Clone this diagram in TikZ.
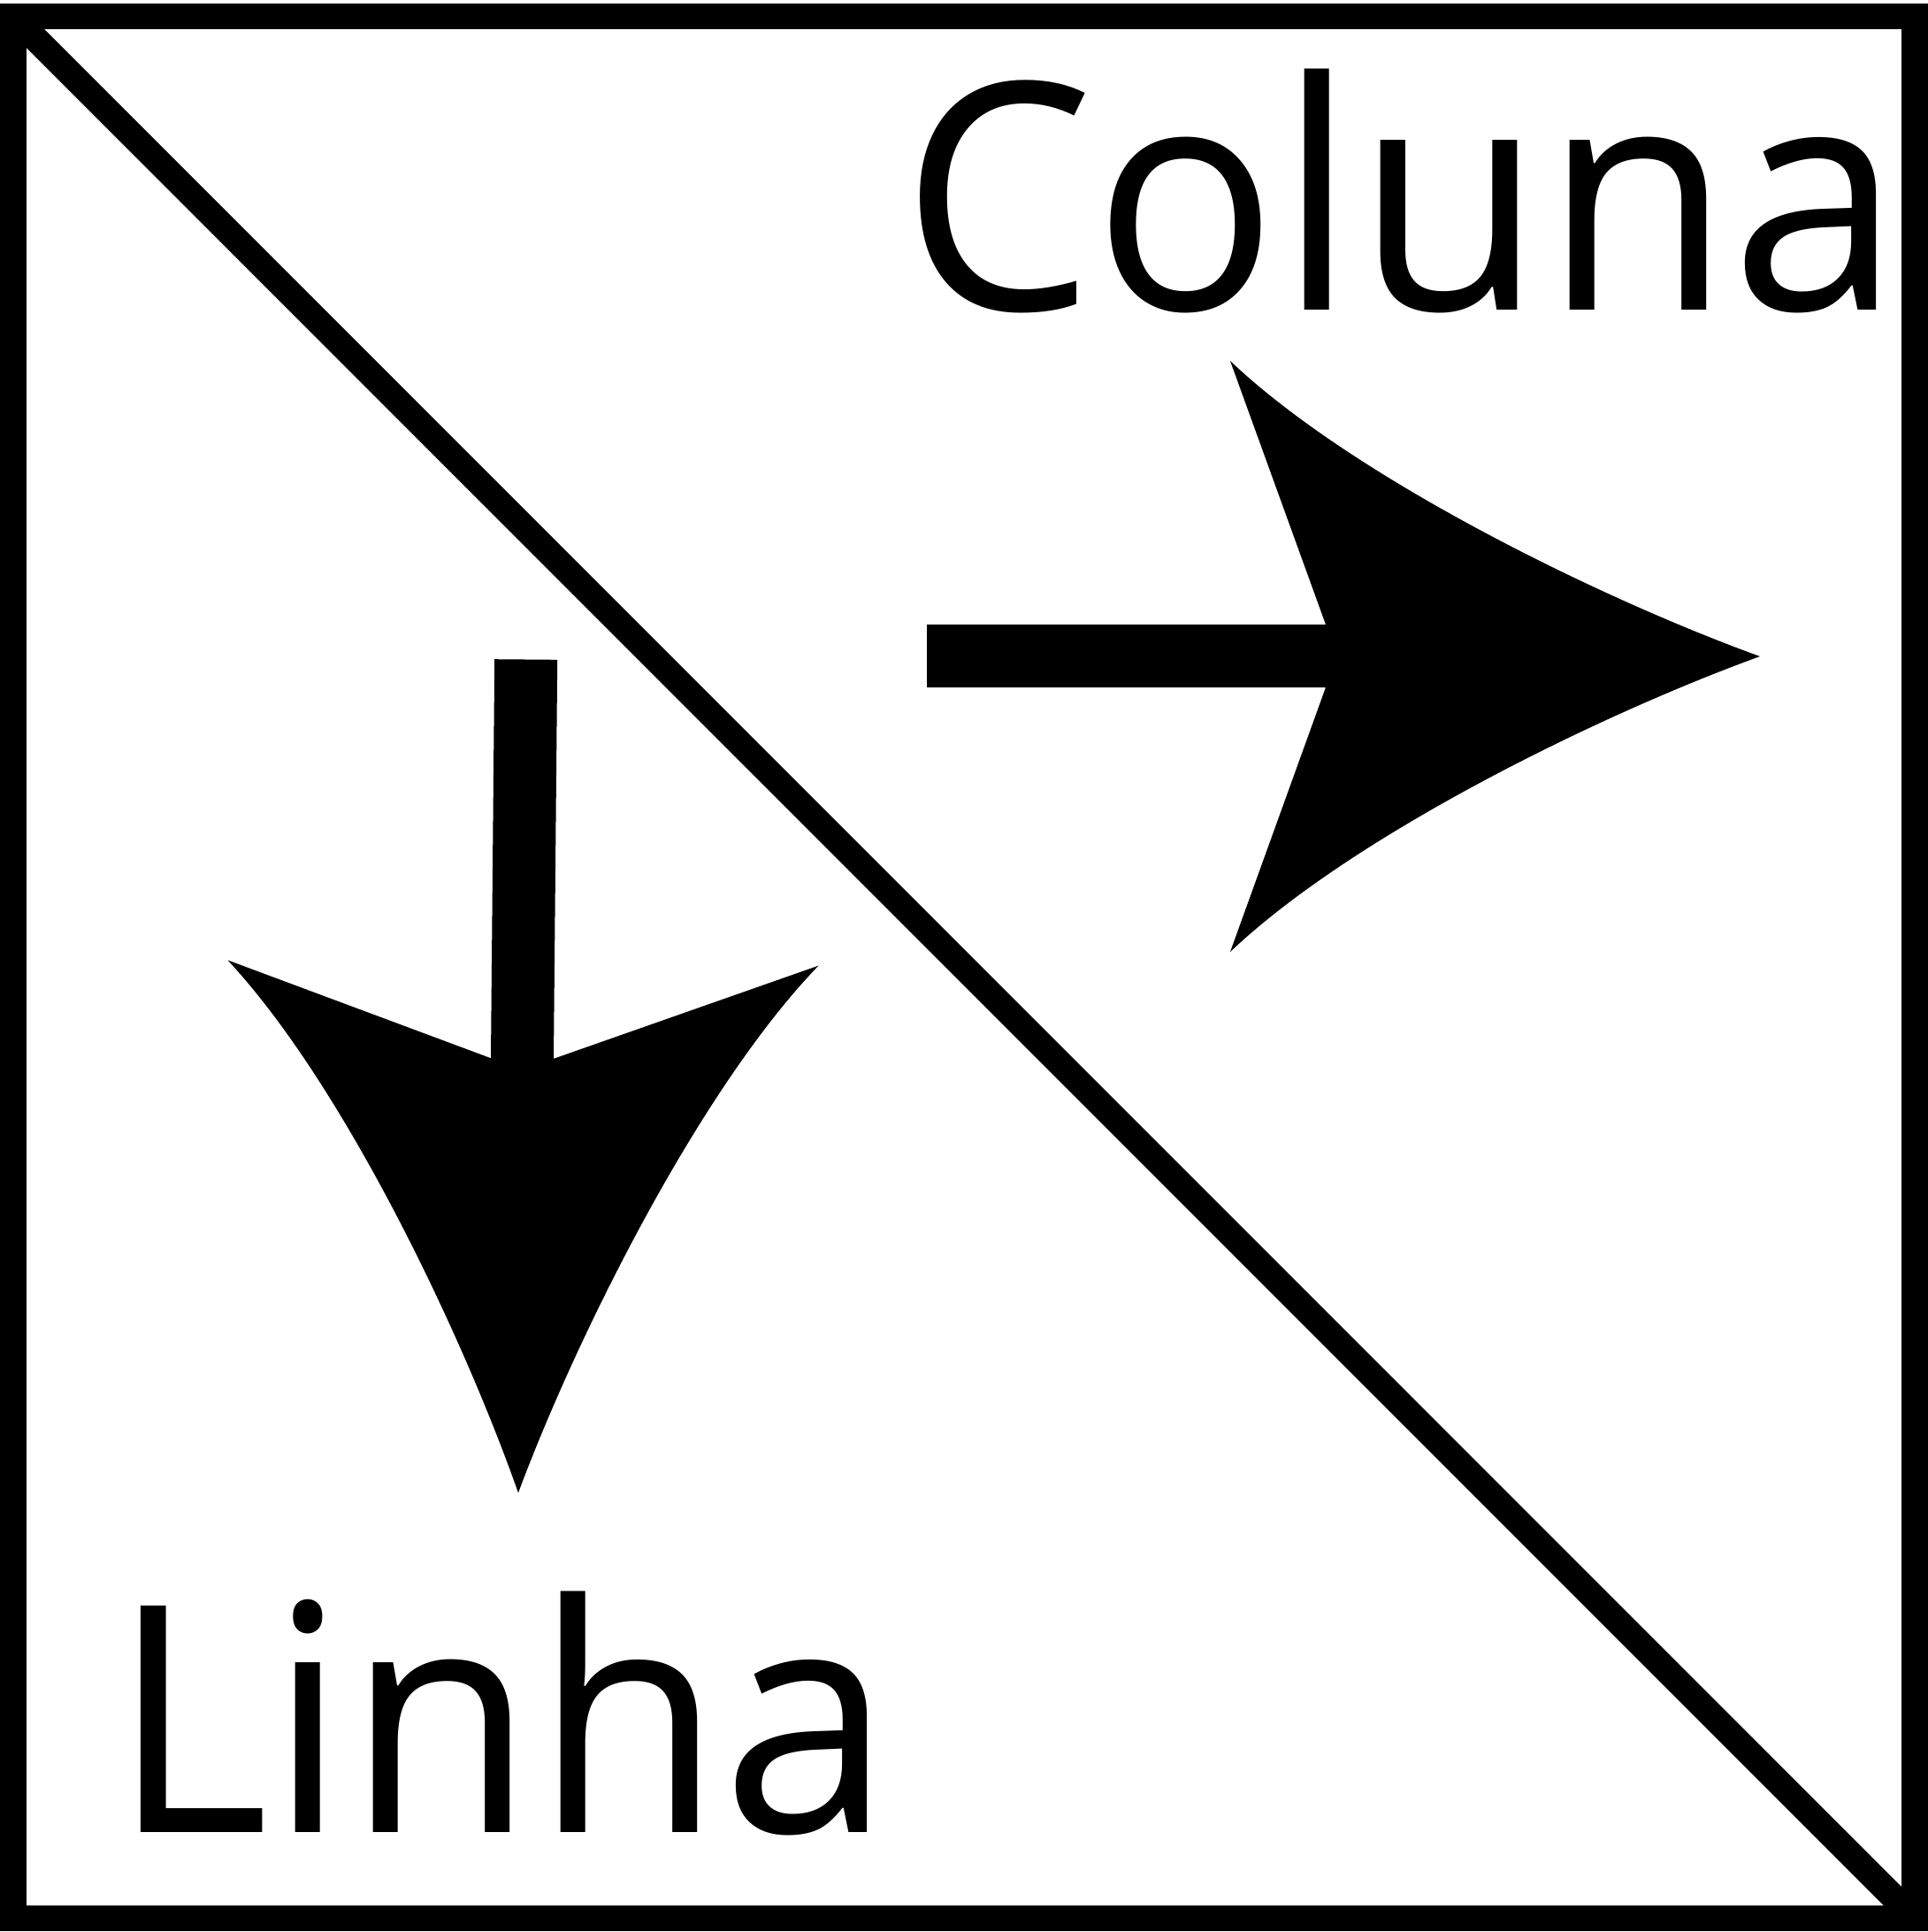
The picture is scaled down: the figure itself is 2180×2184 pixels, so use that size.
\documentclass[tikz,border=0pt]{standalone}
\usepackage{fontspec}
\setmainfont{Open Sans}
\newcommand{\narrowtxt}[1]{\scalebox{0.963}[1]{#1}}
\tikzset{
  framebox/.style={draw=black, line width=0.295cm},
  diag/.style={draw=black, line width=0.29cm},
  lbl/.style={inner sep=0pt, outer sep=0pt, anchor=base west, font=\fontsize{102}{110}\selectfont},
  arrowshape/.style={fill=black}
}
\begin{document}
\begin{tikzpicture}[x=0.01cm, y=-0.01cm]
\useasboundingbox (0,0) rectangle (2180,2184);
\fill[white] (0,0) rectangle (2180,2184);
% frame and diagonal
\draw[framebox] (15,18.5) rectangle (2165,2168.5);
\draw[diag] (15,18.5) -- (2165,2168.5);
% right arrow (Coluna)
\fill[arrowshape] (1048,706) -- (1499,706) -- (1391,408)
  .. controls (1531,541) and (1813,678) .. (1990,742)
  .. controls (1813,806) and (1531,943) .. (1391,1076)
  -- (1499,777) -- (1048,777) -- cycle;
% down arrow (Linha)
\fill[arrowshape] (559.2,745.2) -- (555.0,1196.2) -- (257.5,1085.4)
  .. controls (389.2,1226.6) and (523.6,1509.9) .. (586,1687.5)
  .. controls (651.6,1511.1) and (791.2,1230.4) .. (925.5,1091.6)
  -- (626.0,1196.8) -- (630.2,745.8) -- cycle;
% labels
\node[lbl] (coluna) at (1019,350.7) {\narrowtxt{Coluna}};
\node[lbl] (linha) at (125.4,2071.7) {\narrowtxt{Linha}};
\end{tikzpicture}
\end{document}
